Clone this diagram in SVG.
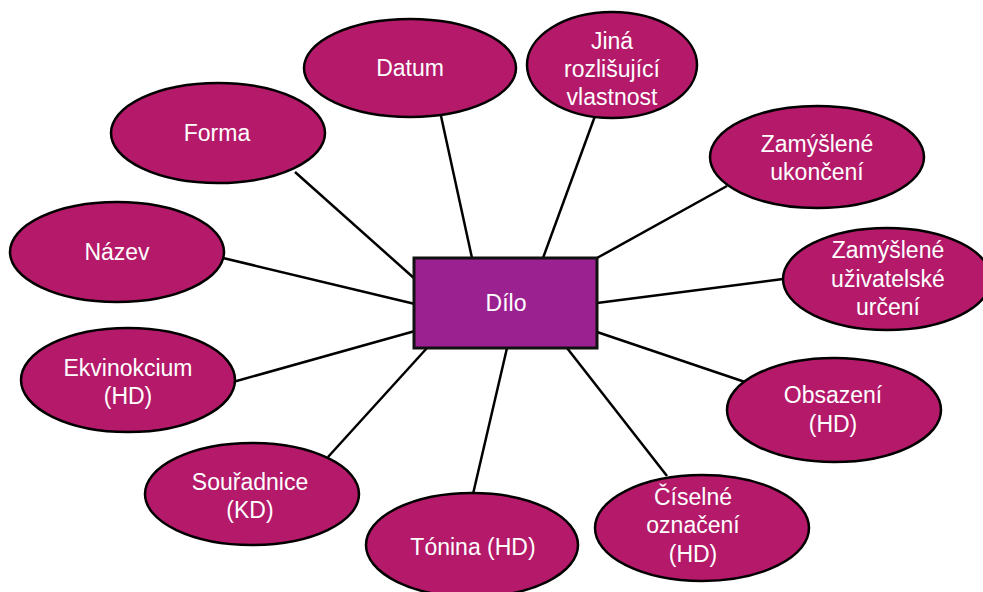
<svg xmlns="http://www.w3.org/2000/svg" width="983" height="592" viewBox="0 0 983 592">
  <style>
    .bg { fill: #ffffff; }
    .attr ellipse { fill: #b4196a; stroke: #000000; stroke-width: 2.5; }
    .hub rect { fill: #9b2190; stroke: #111111; stroke-width: 3; }
    .lbl { font-family: "Liberation Sans", Arial, sans-serif; font-size: 23px; fill: #ffffff; text-anchor: middle; }
    #connectors line { stroke: #000000; stroke-width: 2.5; }
  </style>
  <rect class="bg" x="0" y="0" width="983" height="592"/>

  <!-- lines from the central entity to each attribute -->
  <g id="connectors">
    <line x1="441" y1="116" x2="472" y2="258"/>
    <line x1="595" y1="116" x2="543" y2="258"/>
    <line x1="295" y1="172" x2="415" y2="279"/>
    <line x1="223" y1="258" x2="415" y2="304"/>
    <line x1="233" y1="382" x2="415" y2="331"/>
    <line x1="328" y1="457" x2="427" y2="348"/>
    <line x1="473" y1="494" x2="507" y2="348"/>
    <line x1="667" y1="476" x2="567" y2="348"/>
    <line x1="745" y1="382" x2="597" y2="332"/>
    <line x1="783" y1="279" x2="597" y2="303"/>
    <line x1="727" y1="186" x2="597" y2="258"/>
  </g>

  <g id="n-datum" class="attr">
    <ellipse cx="410" cy="68" rx="106" ry="49"/>
    <text class="lbl" x="410" y="76">Datum</text>
  </g>
  <g id="n-jina" class="attr">
    <ellipse cx="612" cy="65" rx="85" ry="53"/>
    <text class="lbl" x="612" y="49">Jiná</text>
    <text class="lbl" x="612" y="77">rozlišující</text>
    <text class="lbl" x="612" y="105">vlastnost</text>
  </g>
  <g id="n-forma" class="attr">
    <ellipse cx="218" cy="133" rx="107" ry="50"/>
    <text class="lbl" x="217" y="141">Forma</text>
  </g>
  <g id="n-ukonceni" class="attr">
    <ellipse cx="817" cy="157" rx="107" ry="51"/>
    <text class="lbl" x="817" y="152">Zamýšlené</text>
    <text class="lbl" x="817" y="180">ukončení</text>
  </g>
  <g id="n-nazev" class="attr">
    <ellipse cx="117" cy="252" rx="107" ry="50"/>
    <text class="lbl" x="117" y="260">Název</text>
  </g>
  <g id="n-urceni" class="attr">
    <ellipse cx="887" cy="279" rx="104" ry="51"/>
    <text class="lbl" x="888" y="258">Zamýšlené</text>
    <text class="lbl" x="888" y="287">uživatelské</text>
    <text class="lbl" x="888" y="315">určení</text>
  </g>
  <g id="n-ekvinokcium" class="attr">
    <ellipse cx="128" cy="380" rx="107" ry="52"/>
    <text class="lbl" x="128" y="376">Ekvinokcium</text>
    <text class="lbl" x="128" y="404">(HD)</text>
  </g>
  <g id="n-obsazeni" class="attr">
    <ellipse cx="834" cy="410" rx="107" ry="52"/>
    <text class="lbl" x="833" y="403">Obsazení</text>
    <text class="lbl" x="833" y="432">(HD)</text>
  </g>
  <g id="n-souradnice" class="attr">
    <ellipse cx="252" cy="494" rx="107" ry="51"/>
    <text class="lbl" x="250" y="490">Souřadnice</text>
    <text class="lbl" x="250" y="518">(KD)</text>
  </g>
  <g id="n-ciselne" class="attr">
    <ellipse cx="702" cy="528" rx="107" ry="53"/>
    <text class="lbl" x="693" y="505">Číselné</text>
    <text class="lbl" x="693" y="533">označení</text>
    <text class="lbl" x="693" y="562">(HD)</text>
  </g>
  <g id="n-tonina" class="attr">
    <ellipse cx="472" cy="545" rx="106" ry="52"/>
    <text class="lbl" x="473" y="555">Tónina (HD)</text>
  </g>

  <g id="n-dilo" class="hub">
    <rect x="414" y="258" width="183" height="90"/>
    <text class="lbl" x="506" y="311">Dílo</text>
  </g>
</svg>
